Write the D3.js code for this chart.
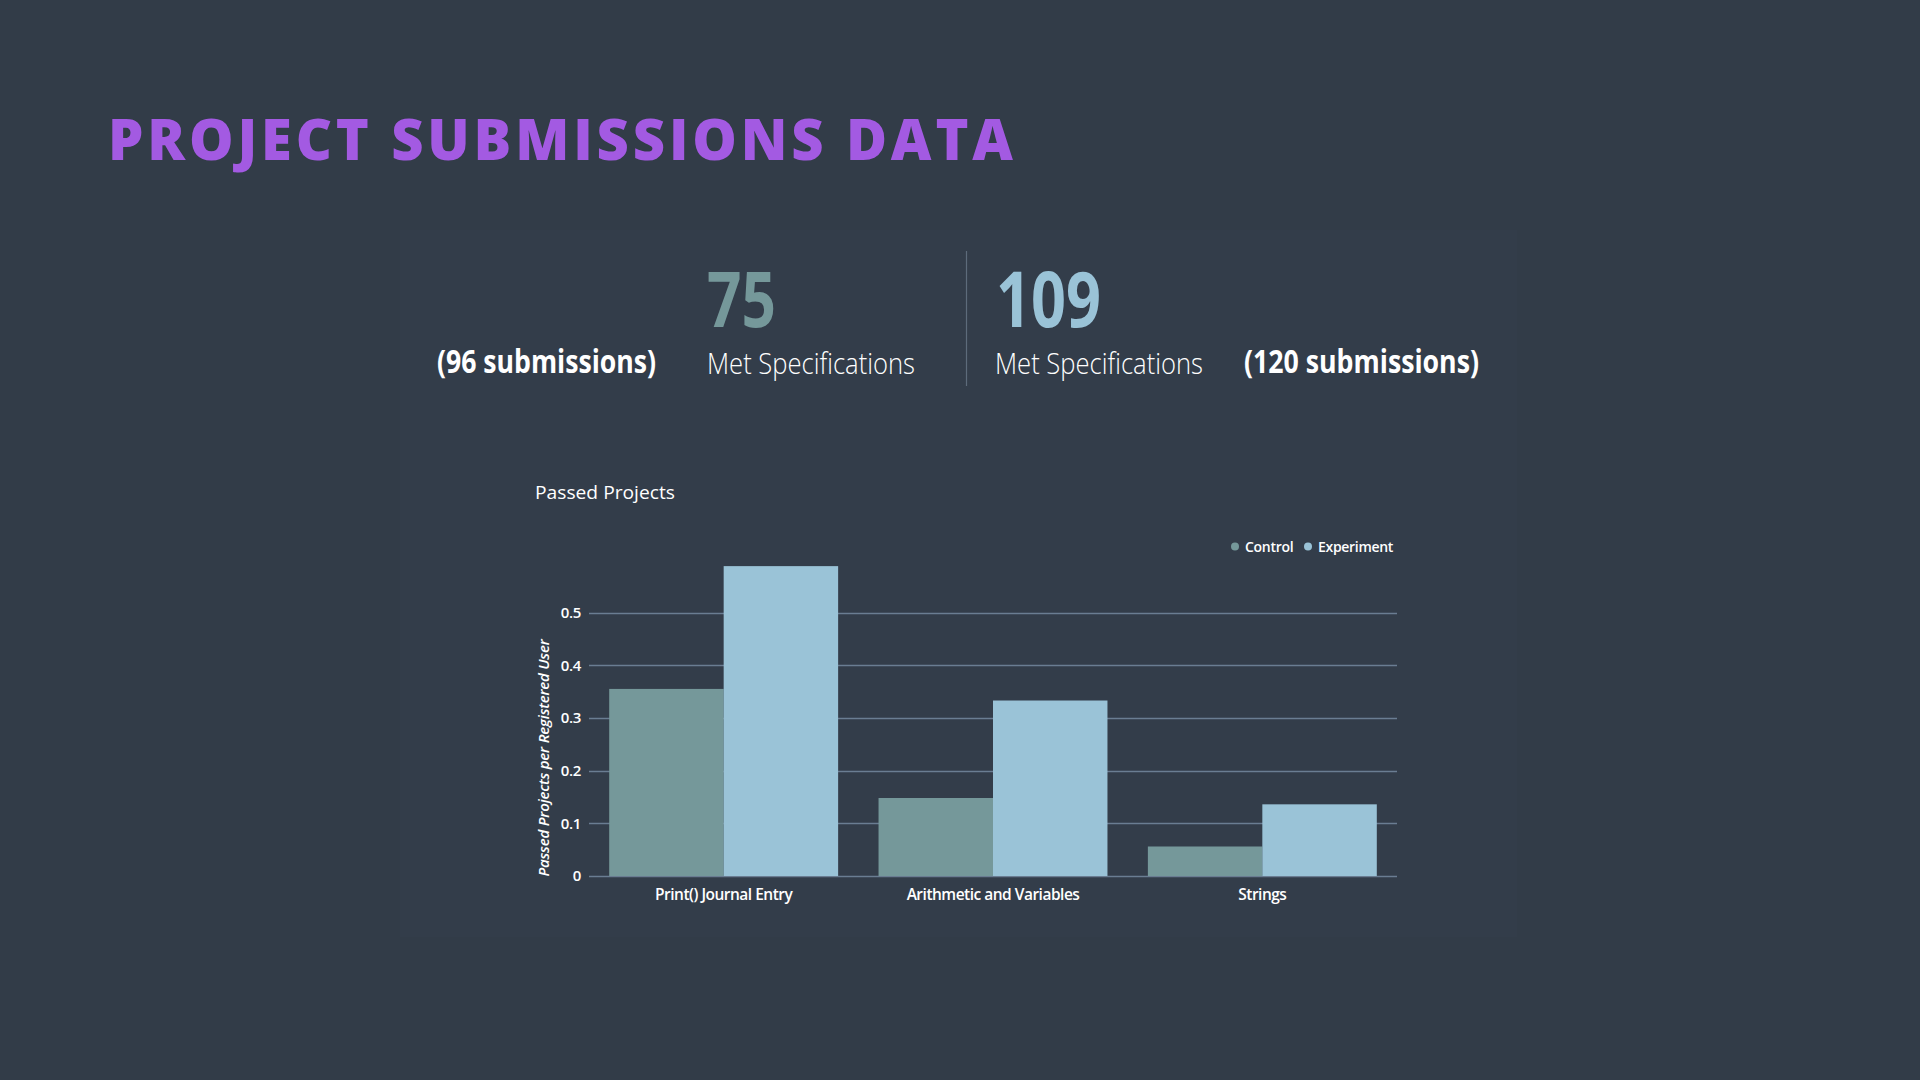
<!DOCTYPE html>
<html>
<head>
<meta charset="utf-8">
<script src="https://cdn.jsdelivr.net/npm/d3@7"></script>
<style>
html,body{margin:0;padding:0;background:#323c48;}
svg{display:block;}
text{font-family:"Open Sans",sans-serif;}
</style>
</head>
<body>
<svg id="chart" width="1920" height="1080"></svg>
<script>
// ---- data ----
const pageTitle = "PROJECT SUBMISSIONS DATA";
const statNumbers = ["75", "109"];
const statLabels = ["Met Specifications", "Met Specifications"];
const statSubmissions = ["(96 submissions)", "(120 submissions)"];
const chartTitle = "Passed Projects";
const yAxisTitle = "Passed Projects per Registered User";
const categories = ["Print() Journal Entry", "Arithmetic and Variables", "Strings"];
const seriesNames = ["Control", "Experiment"];
const controlValues = [0.355, 0.148, 0.056];
const experimentValues = [0.588, 0.333, 0.136];
const yTicks = [0, 0.1, 0.2, 0.3, 0.4, 0.5];
const yTickLabels = ["0", "0.1", "0.2", "0.3", "0.4", "0.5"];

const colors = {Control: "#75989a", Experiment: "#9ac3d7"};

const svg = d3.select("#chart");

// subtle panel
svg.append("rect").attr("x", 400).attr("y", 230).attr("width", 1117).attr("height", 707)
  .attr("fill", "#333d4a");

// title
svg.append("text").attr("x", 108).attr("y", 160)
  .attr("font-family", "Lato, 'DejaVu Sans', sans-serif").attr("font-weight", 900)
  .attr("font-size", 56).attr("fill", "#a35ae2")
  .attr("textLength", 905).attr("lengthAdjust", "spacing")
  .text(pageTitle);

// stats
function fitText(sel, w) { sel.attr("textLength", w).attr("lengthAdjust", "spacingAndGlyphs"); return sel; }

fitText(svg.append("text").attr("x", 707).attr("y", 327).attr("font-weight", 700)
  .attr("font-size", 77).attr("fill", "#75989a").text(statNumbers[0]), 69);
fitText(svg.append("text").attr("x", 996).attr("y", 327).attr("font-weight", 700)
  .attr("font-size", 77).attr("fill", "#9ac3d7").text(statNumbers[1]), 105);

fitText(svg.append("text").attr("x", 707).attr("y", 374).attr("font-weight", 300)
  .attr("font-size", 29).attr("fill", "#ffffff").text(statLabels[0]), 208);
fitText(svg.append("text").attr("x", 995).attr("y", 374).attr("font-weight", 300)
  .attr("font-size", 29).attr("fill", "#ffffff").text(statLabels[1]), 208);

fitText(svg.append("text").attr("x", 437).attr("y", 373).attr("font-weight", 700)
  .attr("font-size", 32).attr("fill", "#ffffff").text(statSubmissions[0]), 219);
fitText(svg.append("text").attr("x", 1244).attr("y", 373).attr("font-weight", 700)
  .attr("font-size", 32).attr("fill", "#ffffff").text(statSubmissions[1]), 235);

svg.append("line").attr("x1", 966.5).attr("x2", 966.5).attr("y1", 251).attr("y2", 386)
  .attr("stroke", "#5d6b7b").attr("stroke-width", 1.2);

// chart
const plot = {left: 589, right: 1397, top: 566, bottom: 876};
const y = d3.scaleLinear().domain([0, 0.5]).range([plot.bottom, 612.5]);
const x0 = d3.scaleBand().domain(categories).range([plot.left, plot.right])
  .paddingInner(0.15).paddingOuter(0.075);
const x1 = d3.scaleBand().domain(seriesNames).range([0, x0.bandwidth()]).padding(0);

fitText(svg.append("text").attr("x", 535).attr("y", 499).attr("font-size", 19)
  .attr("fill", "#ffffff").text(chartTitle), 140);

// gridlines
svg.append("g").selectAll("line").data(yTicks).join("line")
  .attr("x1", plot.left).attr("x2", plot.right)
  .attr("y1", d => Math.round(y(d)) + 0.5).attr("y2", d => Math.round(y(d)) + 0.5)
  .attr("stroke", "#6a7d92").attr("stroke-width", 1.5);

// bars
const rows = categories.map((c, i) => ({cat: c, vals: [
  {name: "Control", v: controlValues[i]}, {name: "Experiment", v: experimentValues[i]}]}));
const g = svg.append("g").selectAll("g").data(rows).join("g")
  .attr("transform", d => `translate(${x0(d.cat)},0)`);
g.selectAll("rect").data(d => d.vals).join("rect")
  .attr("x", d => x1(d.name)).attr("width", x1.bandwidth())
  .attr("y", d => y(d.v)).attr("height", d => y(0) - y(d.v))
  .attr("fill", d => colors[d.name]);

// y axis
const yAxis = d3.axisLeft(y).tickValues(yTicks).tickFormat((d, i) => yTickLabels[i]).tickSize(0).tickPadding(8);
const ya = svg.append("g").attr("transform", `translate(${plot.left - 0},0)`).call(yAxis);
ya.select(".domain").remove();
ya.selectAll("text").attr("font-family", "'Open Sans',sans-serif").attr("font-size", 15)
  .attr("font-weight", 600).attr("fill", "#ffffff").attr("letter-spacing", -0.3);

// x axis
const xAxis = d3.axisBottom(x0).tickSize(0).tickPadding(13);
const xa = svg.append("g").attr("transform", `translate(0,${plot.bottom})`).call(xAxis);
xa.select(".domain").remove();
xa.selectAll("text").attr("font-family", "'Open Sans',sans-serif").attr("font-size", 15.5)
  .attr("font-weight", 600).attr("fill", "#ffffff").attr("letter-spacing", -0.5);

// y axis title
svg.append("text").attr("transform", "translate(549,758) rotate(-90)")
  .attr("text-anchor", "middle").attr("font-style", "italic").attr("font-size", 15)
  .attr("font-weight", 600).attr("letter-spacing", -0.2)
  .attr("fill", "#ffffff").text(yAxisTitle);

// legend
const legendX = [1235, 1308];
const leg = svg.append("g").selectAll("g").data(seriesNames).join("g")
  .attr("transform", (d, i) => `translate(${legendX[i]},546.5)`);
leg.append("circle").attr("r", 4).attr("fill", d => colors[d]);
leg.append("text").attr("x", 10).attr("y", 5).attr("font-size", 14).attr("font-weight", 600)
  .attr("fill", "#ffffff").attr("letter-spacing", -0.3).text(d => d);
</script>
</body>
</html>
